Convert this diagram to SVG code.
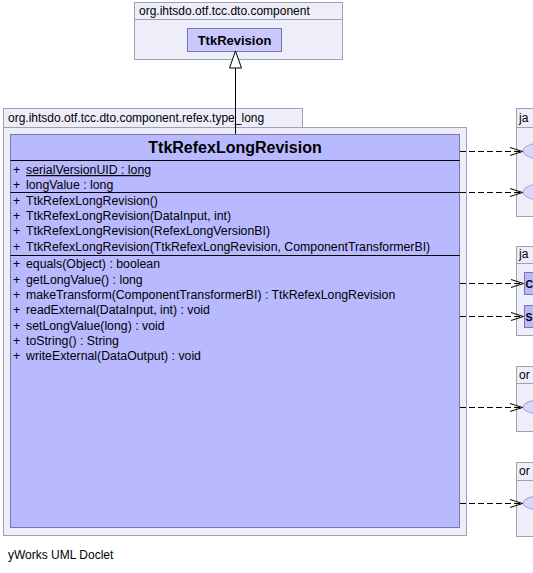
<svg xmlns="http://www.w3.org/2000/svg" width="533" height="573" viewBox="0 0 533 573">
<style>
text{font-family:"Liberation Sans",Arial,sans-serif;fill:#000}
.pkg{fill:#eeeefa;stroke:#a0a0b4;stroke-width:1}
.cls{fill:#b9b9ff;stroke:#7878a8;stroke-width:1}
.ell{fill:#d8d8ff;stroke:#a0a0c8;stroke-width:1}
.sep{stroke:#000;stroke-width:1}
.lbl{font-size:12px}
.mem{font-size:12.3px}
.title{font-size:16px;font-weight:bold}
.cname{font-size:13px;font-weight:bold}
.dep{stroke:#000;stroke-width:1;fill:none;stroke-dasharray:6,3}
.head{stroke:#000;stroke-width:1;fill:none}
</style>
<rect width="533" height="573" fill="#fff"/>

<g id="pkg-component">
<rect class="pkg" x="134.5" y="2.5" width="208" height="17"/>
<rect class="pkg" x="134.5" y="19.5" width="208" height="40"/>
<text class="lbl" x="139" y="15">org.ihtsdo.otf.tcc.dto.component</text>
</g>
<g id="TtkRevision">
<rect class="cls" x="187.5" y="28.5" width="94" height="23" style="fill:#c8c8ff"/>
<text class="cname" x="234.5" y="45" text-anchor="middle">TtkRevision</text>
</g>

<g id="pkg-type_long">
<rect class="pkg" x="3.5" y="108.5" width="299" height="19"/>
<rect class="pkg" x="3.5" y="127.5" width="463" height="408"/>
<text class="lbl" x="8" y="122">org.ihtsdo.otf.tcc.dto.component.refex.type_long</text>
</g>

<g id="TtkRefexLongRevision">
<rect class="cls" x="10.5" y="134.5" width="449" height="393"/>
<text class="title" x="235" y="153" text-anchor="middle">TtkRefexLongRevision</text>
<line class="sep" x1="10.5" y1="160.5" x2="459.5" y2="160.5"/>
<text class="mem" x="13" y="174">+</text><text class="mem" x="26" y="174" text-decoration="underline">serialVersionUID : long </text>
<text class="mem" x="13" y="189">+</text><text class="mem" x="26" y="189">longValue : long</text>
<line class="sep" x1="10.5" y1="192.5" x2="459.5" y2="192.5"/>
<text class="mem" x="13" y="205">+</text><text class="mem" x="26" y="205">TtkRefexLongRevision()</text>
<text class="mem" x="13" y="220">+</text><text class="mem" x="26" y="220">TtkRefexLongRevision(DataInput, int)</text>
<text class="mem" x="13" y="235">+</text><text class="mem" x="26" y="235">TtkRefexLongRevision(RefexLongVersionBI)</text>
<text class="mem" x="13" y="251">+</text><text class="mem" x="26" y="251">TtkRefexLongRevision(TtkRefexLongRevision, ComponentTransformerBI)</text>
<line class="sep" x1="10.5" y1="255.5" x2="459.5" y2="255.5"/>
<text class="mem" x="13" y="268">+</text><text class="mem" x="26" y="268">equals(Object) : boolean</text>
<text class="mem" x="13" y="284">+</text><text class="mem" x="26" y="284">getLongValue() : long</text>
<text class="mem" x="13" y="299">+</text><text class="mem" x="26" y="299">makeTransform(ComponentTransformerBI) : TtkRefexLongRevision</text>
<text class="mem" x="13" y="314">+</text><text class="mem" x="26" y="314">readExternal(DataInput, int) : void</text>
<text class="mem" x="13" y="330">+</text><text class="mem" x="26" y="330">setLongValue(long) : void</text>
<text class="mem" x="13" y="345">+</text><text class="mem" x="26" y="345">toString() : String</text>
<text class="mem" x="13" y="360">+</text><text class="mem" x="26" y="360">writeExternal(DataOutput) : void</text>
</g>

<g id="pkg-java-1">
<rect class="pkg" x="516.5" y="108.5" width="40" height="19"/>
<rect class="pkg" x="516.5" y="127.5" width="40" height="89"/>
<text class="lbl" x="519" y="122">ja</text>
<ellipse class="ell" cx="548" cy="151" rx="25" ry="9"/>
<ellipse class="ell" cx="548" cy="192" rx="25" ry="9"/>
</g>
<g id="pkg-java-2">
<rect class="pkg" x="516.5" y="246.5" width="40" height="17"/>
<rect class="pkg" x="516.5" y="263.5" width="40" height="72"/>
<text class="lbl" x="519" y="258">ja</text>
<rect class="cls" x="524.5" y="272.5" width="30" height="22"/>
<text class="cname" x="525.5" y="288" style="font-size:10.5px">C</text>
<rect class="cls" x="524.5" y="305.5" width="30" height="22"/>
<text class="cname" x="525.5" y="321" style="font-size:10.5px">S</text>
</g>
<g id="pkg-org-1">
<rect class="pkg" x="516.5" y="366.5" width="40" height="17"/>
<rect class="pkg" x="516.5" y="383.5" width="40" height="48"/>
<text class="lbl" x="519" y="379">or</text>
<ellipse class="ell" cx="548" cy="407" rx="25" ry="8"/>
</g>
<g id="pkg-org-2">
<rect class="pkg" x="516.5" y="462.5" width="40" height="18"/>
<rect class="pkg" x="516.5" y="480.5" width="40" height="56"/>
<text class="lbl" x="519" y="475">or</text>
<ellipse class="ell" cx="548" cy="503" rx="25" ry="8"/>
</g>

<g id="connectors">
<line class="head" x1="235.5" y1="134" x2="235.5" y2="68"/>
<polygon points="235.5,51 229.5,68 241.5,68" fill="#fff" stroke="#000" stroke-width="1"/>
<line class="dep" x1="460" y1="151.5" x2="522" y2="151.5"/>
<polyline class="head" points="510,147.5 522.5,151.5 510,155.5"/>
<line class="dep" x1="460" y1="192.5" x2="522" y2="192.5"/>
<polyline class="head" points="510,188.5 522.5,192.5 510,196.5"/>
<line class="dep" x1="460" y1="283.5" x2="523" y2="283.5"/>
<polyline class="head" points="511,279.5 523.5,283.5 511,287.5"/>
<line class="dep" x1="460" y1="316.5" x2="523" y2="316.5"/>
<polyline class="head" points="511,312.5 523.5,316.5 511,320.5"/>
<line class="dep" x1="460" y1="407.5" x2="522" y2="407.5"/>
<polyline class="head" points="510,403.5 522.5,407.5 510,411.5"/>
<line class="dep" x1="460" y1="503.5" x2="522" y2="503.5"/>
<polyline class="head" points="510,499.5 522.5,503.5 510,507.5"/>
</g>

<text class="lbl" x="8" y="559">yWorks UML Doclet</text>
</svg>
